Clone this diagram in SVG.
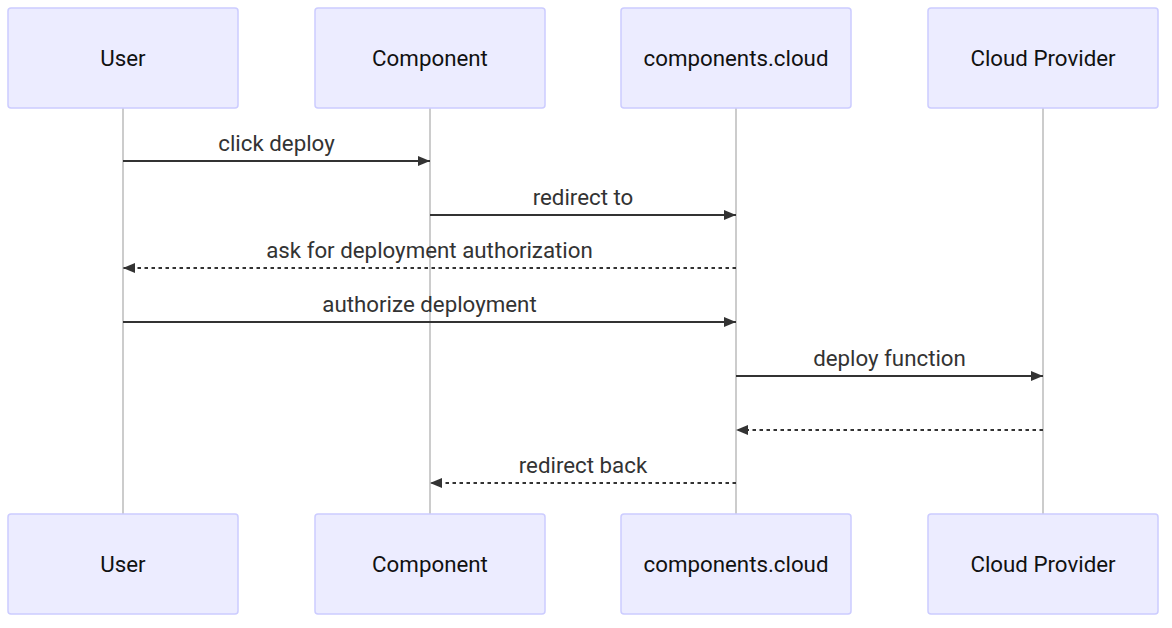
<svg xmlns="http://www.w3.org/2000/svg" width="1172" height="628" viewBox="0 0 1172 628">
<style>
.actor{fill:#ECECFF;stroke:#CCCCFF;stroke-width:1.5}
.atext{font-family:Roboto,"Liberation Sans",sans-serif;font-size:22.3px;fill:#111;text-anchor:middle;dominant-baseline:central}
.life{stroke:#999;stroke-width:1}
.msg{stroke:#333;stroke-width:2;fill:none}
.dash{stroke-dasharray:3.5,3.5}
.mtext{font-family:Roboto,"Liberation Sans",sans-serif;font-size:22.3px;fill:#333;text-anchor:middle}
</style>
<defs>
<marker id="arr" viewBox="0 0 12 10" refX="12" refY="5" markerWidth="12" markerHeight="10" markerUnits="userSpaceOnUse" orient="auto">
<path d="M0,0 L12,5 L0,10 z" fill="#333"/>
</marker>
</defs>
<rect width="1172" height="628" fill="#fff"/>
<g id="lifelines">
<line class="life" x1="123" y1="108" x2="123" y2="514"/>
<line class="life" x1="430" y1="108" x2="430" y2="514"/>
<line class="life" x1="736" y1="108" x2="736" y2="514"/>
<line class="life" x1="1043" y1="108" x2="1043" y2="514"/>
</g>
<g id="user-top"><rect class="actor" x="8" y="8" width="230" height="100" rx="3"/><text class="atext" x="123" y="58">User</text></g>
<g id="component-top"><rect class="actor" x="315" y="8" width="230" height="100" rx="3"/><text class="atext" x="430" y="58">Component</text></g>
<g id="cloud-top"><rect class="actor" x="621" y="8" width="230" height="100" rx="3"/><text class="atext" x="736" y="58">components.cloud</text></g>
<g id="provider-top"><rect class="actor" x="928" y="8" width="230" height="100" rx="3"/><text class="atext" x="1043" y="58">Cloud Provider</text></g>
<g id="user-bottom"><rect class="actor" x="8" y="514" width="230" height="100" rx="3"/><text class="atext" x="123" y="564">User</text></g>
<g id="component-bottom"><rect class="actor" x="315" y="514" width="230" height="100" rx="3"/><text class="atext" x="430" y="564">Component</text></g>
<g id="cloud-bottom"><rect class="actor" x="621" y="514" width="230" height="100" rx="3"/><text class="atext" x="736" y="564">components.cloud</text></g>
<g id="provider-bottom"><rect class="actor" x="928" y="514" width="230" height="100" rx="3"/><text class="atext" x="1043" y="564">Cloud Provider</text></g>
<g id="connectors">
<line class="msg" x1="123" y1="161" x2="430" y2="161" marker-end="url(#arr)"/>
<line class="msg" x1="430" y1="215" x2="736" y2="215" marker-end="url(#arr)"/>
<line class="msg dash" x1="736" y1="268" x2="123" y2="268" marker-end="url(#arr)"/>
<line class="msg" x1="123" y1="322" x2="736" y2="322" marker-end="url(#arr)"/>
<line class="msg" x1="736" y1="376" x2="1043" y2="376" marker-end="url(#arr)"/>
<line class="msg dash" x1="1043" y1="430" x2="736" y2="430" marker-end="url(#arr)"/>
<line class="msg dash" x1="736" y1="483" x2="430" y2="483" marker-end="url(#arr)"/>
</g>
<g id="labels">
<text class="mtext" x="276.5" y="151">click deploy</text>
<text class="mtext" x="583" y="205">redirect to</text>
<text class="mtext" x="429.5" y="258">ask for deployment authorization</text>
<text class="mtext" x="429.5" y="312">authorize deployment</text>
<text class="mtext" x="889.5" y="366">deploy function</text>
<text class="mtext" x="583" y="473">redirect back</text>
</g>
</svg>
